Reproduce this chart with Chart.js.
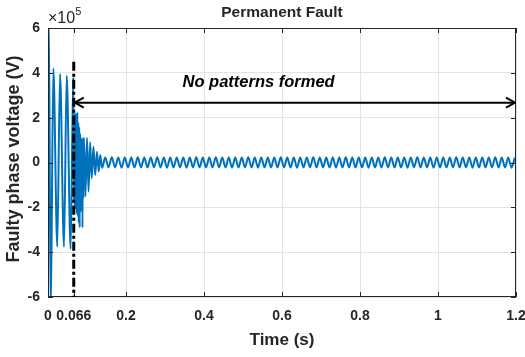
<!DOCTYPE html>
<html>
<head>
<meta charset="utf-8">
<script src="https://cdn.jsdelivr.net/npm/chart.js@4.4.1/dist/chart.umd.min.js"></script>
<style>
    html, body { margin: 0; padding: 0; background: #fff; }
    #wrap { width: 525px; height: 357px; position: relative; }
</style>
</head>
<body>
<div id="wrap"><canvas id="faultChart"></canvas></div>
<script>
// values in units of 1e5 V, time in s
var transientTimes = [
    0, 0.002, 0.0069, 0.0137, 0.0238, 0.0308, 0.041, 0.048, 0.058, 0.0648,
    0.0668, 0.068, 0.0692, 0.0704, 0.0716, 0.0728, 0.074, 0.0752, 0.0764, 0.0776, 0.0788,
    0.08, 0.0812, 0.0824, 0.0836, 0.0848, 0.086, 0.0872, 0.0884, 0.0896, 0.0908, 0.092,
    0.096, 0.1, 0.104, 0.108, 0.112, 0.1165, 0.121, 0.1255, 0.13, 0.134
];
var transientVolts = [
    1.1, 6.6, -6.8, 4.2, -3.75, 3.95, -3.76, 3.87, -3.86, 3.8,
    -1.8, 2.1, -2.0, 2.2, -2.1, 2.0, -2.3, 2.25, -2.4, 1.8, -2.7,
    1.6, -2.9, 1.3, -2.2, 1.1, -2.0, 1.0, -2.9, 1.1, -1.6, 1.1,
    -1.5, 1.1, -1.3, 0.9, -0.7, 0.7, -0.56, 0.48, -0.4, 0.33
];
var steadyStart = 0.1385;
var steadyStep = 1 / 120;
var steadyVolts = [
    -0.24, 0.22, -0.22, 0.23, -0.22, 0.22, -0.23, 0.22, -0.22, 0.22, -0.22, 0.23, -0.22, 0.22, -0.22, 0.22,
    -0.22, 0.23, -0.22, 0.22, -0.23, 0.22, -0.22, 0.22, -0.22, 0.22, -0.23, 0.22, -0.22, 0.23, -0.22, 0.22,
    -0.22, 0.22, -0.22, 0.23, -0.22, 0.22, -0.22, 0.22, -0.23, 0.22, -0.22, 0.22, -0.22, 0.23, -0.22, 0.22,
    -0.23, 0.22, -0.22, 0.22, -0.22, 0.22, -0.22, 0.23, -0.22, 0.22, -0.22, 0.22, -0.23, 0.22, -0.22, 0.22,
    -0.22, 0.23, -0.22, 0.22, -0.22, 0.22, -0.22, 0.22, -0.23, 0.22, -0.22, 0.23, -0.22, 0.22, -0.22, 0.22,
    -0.22, 0.22, -0.23, 0.22, -0.22, 0.22, -0.22, 0.23, -0.22, 0.22, -0.22, 0.22, -0.22, 0.22, -0.23, 0.22,
    -0.22, 0.23, -0.22, 0.22, -0.22, 0.22, -0.23, 0.22, -0.22, 0.22, -0.22, 0.22, -0.22, 0.23, -0.22, 0.22,
    -0.22, 0.22, -0.23, 0.22, -0.22, 0.22, -0.22, 0.22, -0.22, 0.23, -0.22, 0.22, -0.22, 0.22, -0.23, 0.22
];
var xTickValues = [0, 0.066, 0.2, 0.4, 0.6, 0.8, 1, 1.2];
var yTickValues = [-6, -4, -2, 0, 2, 4, 6];
var faultTime = 0.066;
var faultLineTop = 4.5;
var arrowLevel = 2.67;
var noteText = 'No patterns formed';
var noteTime = 0.54;
var noteLevel = 3.55;

(function () {
    var FONT = "'Liberation Sans', Arial, sans-serif";
    var INK = '#262626';

    var points = [];
    transientTimes.forEach(function (t, i) {
        points.push({ x: t, y: transientVolts[i] });
    });
    steadyVolts.forEach(function (v, i) {
        points.push({ x: steadyStart + i * steadyStep, y: v });
    });

    function arrowHead(ctx, x, y, dir) {
        ctx.beginPath();
        ctx.moveTo(x, y);
        ctx.lineTo(x - dir * 9, y - 5);
        ctx.moveTo(x, y);
        ctx.lineTo(x - dir * 9, y + 5);
        ctx.stroke();
    }

    var decorations = {
        id: 'decorations',
        afterDatasetsDraw: function (chart) {
            var ctx = chart.ctx;
            var area = chart.chartArea;
            var xs = chart.scales.x;
            var ys = chart.scales.y;

            ctx.save();

            // axes box and inner ticks
            ctx.strokeStyle = INK;
            ctx.lineWidth = 1;
            ctx.strokeRect(area.left + 0.5, area.top + 0.5, area.right - area.left - 1, area.bottom - area.top - 1);
            ctx.beginPath();
            xTickValues.forEach(function (v) {
                var px = Math.round(xs.getPixelForValue(v)) + 0.5;
                ctx.moveTo(px, area.bottom);
                ctx.lineTo(px, area.bottom - 5);
                ctx.moveTo(px, area.top);
                ctx.lineTo(px, area.top + 5);
            });
            yTickValues.forEach(function (v) {
                var py = Math.round(ys.getPixelForValue(v)) + 0.5;
                ctx.moveTo(area.left, py);
                ctx.lineTo(area.left + 5, py);
                ctx.moveTo(area.right, py);
                ctx.lineTo(area.right - 5, py);
            });
            ctx.stroke();

            // fault instant marker
            var fx = xs.getPixelForValue(faultTime);
            ctx.strokeStyle = '#000';
            ctx.lineWidth = 3;
            ctx.setLineDash([9, 3, 3, 3]);
            ctx.beginPath();
            ctx.moveTo(fx, ys.getPixelForValue(faultLineTop));
            ctx.lineTo(fx, area.bottom);
            ctx.stroke();
            ctx.setLineDash([]);

            // double arrow
            var ay = ys.getPixelForValue(arrowLevel);
            var ax0 = fx + 1;
            var ax1 = area.right;
            ctx.lineWidth = 2;
            ctx.beginPath();
            ctx.moveTo(ax0, ay);
            ctx.lineTo(ax1, ay);
            ctx.stroke();
            arrowHead(ctx, ax0, ay, -1);
            arrowHead(ctx, ax1 - 1, ay, 1);

            ctx.fillStyle = '#000';
            ctx.font = 'italic bold 16.5px ' + FONT;
            ctx.textAlign = 'center';
            ctx.textBaseline = 'middle';
            ctx.fillText(noteText, xs.getPixelForValue(noteTime), ys.getPixelForValue(noteLevel));

            // titles
            var cx = (area.left + area.right) / 2;
            ctx.fillStyle = INK;
            ctx.font = 'bold 15.5px ' + FONT;
            ctx.fillText('Permanent Fault', cx, 13);
            ctx.font = 'bold 17px ' + FONT;
            ctx.fillText('Time (s)', cx, 340);
            ctx.save();
            ctx.translate(14, 159);
            ctx.rotate(-Math.PI / 2);
            ctx.font = 'bold 18px ' + FONT;
            ctx.fillText('Faulty phase voltage (V)', 0, 0);
            ctx.restore();

            // exponent
            ctx.textAlign = 'left';
            ctx.textBaseline = 'alphabetic';
            ctx.font = '16px ' + FONT;
            ctx.fillText('\u00d710', area.left, 23);
            var w = ctx.measureText('\u00d710').width;
            ctx.font = '11px ' + FONT;
            ctx.fillText('5', area.left + w, 15);

            ctx.restore();
        }
    };

    new Chart(document.getElementById('faultChart'), {
        type: 'line',
        data: {
            datasets: [
                {
                    data: points,
                    borderColor: '#0072BD',
                    borderWidth: 2,
                    pointRadius: 0,
                    cubicInterpolationMode: 'monotone',
                    fill: false
                }
            ]
        },
        options: {
            responsive: true,
            maintainAspectRatio: false,
            animation: false,
            parsing: false,
            layout: {
                padding: { top: 28, right: 9, left: 0, bottom: 0 }
            },
            plugins: {
                legend: { display: false },
                tooltip: { enabled: false }
            },
            scales: {
                x: {
                    type: 'linear',
                    min: 0,
                    max: 1.2,
                    afterBuildTicks: function (scale) {
                        scale.ticks = xTickValues.map(function (v) { return { value: v }; });
                    },
                    afterFit: function (scale) {
                        scale.height = 60;
                        scale.paddingLeft = 0;
                        scale.paddingRight = 0;
                    },
                    ticks: {
                        color: INK,
                        autoSkip: false,
                        maxRotation: 0,
                        padding: 11,
                        font: { family: FONT, size: 14, weight: 'bold' },
                        callback: function (value) {
                            return String(value);
                        }
                    },
                    grid: {
                        color: '#e3e3e3',
                        drawTicks: false
                    },
                    border: { display: false }
                },
                y: {
                    min: -6,
                    max: 6,
                    afterBuildTicks: function (scale) {
                        scale.ticks = yTickValues.map(function (v) { return { value: v }; });
                    },
                    afterFit: function (scale) {
                        scale.width = 48;
                        scale.paddingTop = 0;
                        scale.paddingBottom = 0;
                    },
                    ticks: {
                        color: INK,
                        padding: 8,
                        font: { family: FONT, size: 14, weight: 'bold' },
                        callback: function (value) {
                            return String(value);
                        }
                    },
                    grid: {
                        color: '#e3e3e3',
                        drawTicks: false
                    },
                    border: { display: false }
                }
            }
        },
        plugins: [decorations]
    });
})();
</script>
</body>
</html>
